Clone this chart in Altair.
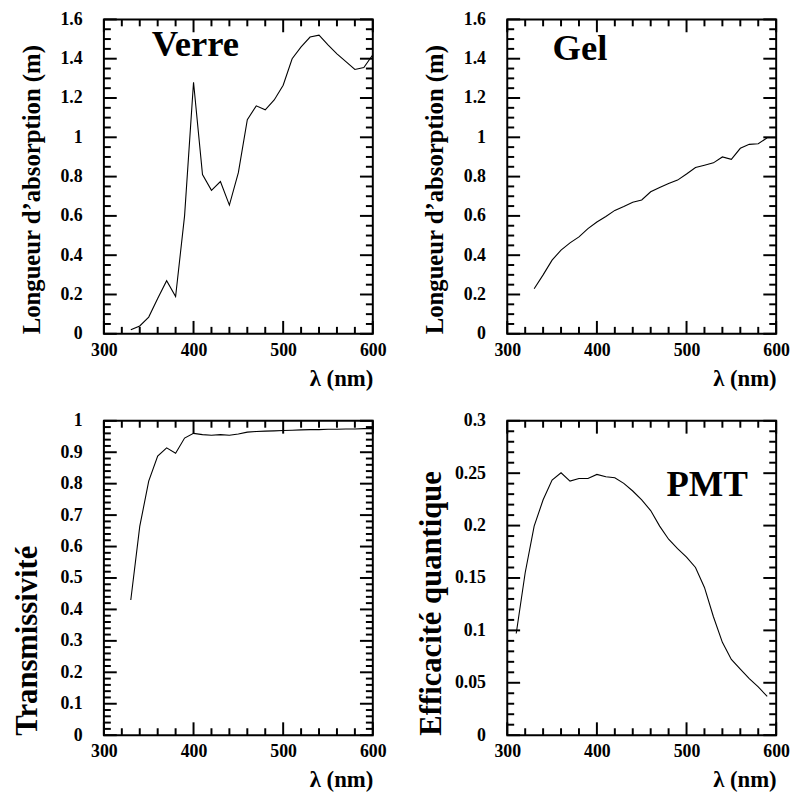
import altair as alt
import pandas as pd

FONT = "Liberation Serif"

# ---- data ----
verre_nm = [330, 340, 350, 360, 370, 380, 390, 400, 410, 420, 430, 440, 450, 460,
            470, 480, 490, 500, 510, 520, 530, 540, 550, 560, 570, 580, 590, 600]
verre_val = [0.02, 0.04, 0.085, 0.18, 0.27, 0.19, 0.60, 1.28, 0.81, 0.73, 0.775, 0.655,
             0.82, 1.09, 1.16, 1.14, 1.19, 1.265, 1.40, 1.46, 1.51, 1.52, 1.47, 1.425,
             1.385, 1.345, 1.355, 1.42]

gel_nm = [330, 340, 350, 360, 370, 380, 390, 400, 410, 420, 430, 440, 450, 460,
          470, 480, 490, 500, 510, 520, 530, 540, 550, 560, 570, 580, 590, 600]
gel_val = [0.229, 0.30, 0.375, 0.426, 0.463, 0.493, 0.535, 0.569, 0.597, 0.628, 0.648,
           0.670, 0.681, 0.723, 0.745, 0.765, 0.782, 0.813, 0.846, 0.858, 0.870, 0.900,
           0.888, 0.944, 0.964, 0.967, 0.998, 0.998]

trans_nm = [330, 340, 350, 360, 370, 380, 390, 400, 410, 420, 430, 440, 450, 460,
            470, 480, 490, 500, 510, 520, 530, 540, 550, 560, 570, 580, 590, 600]
trans_val = [0.430, 0.664, 0.808, 0.888, 0.914, 0.897, 0.945, 0.960, 0.956, 0.954, 0.956,
             0.954, 0.958, 0.964, 0.966, 0.967, 0.968, 0.969, 0.970, 0.971, 0.972, 0.972,
             0.973, 0.973, 0.974, 0.974, 0.975, 0.975]

pmt_nm = [310, 320, 330, 340, 350, 360, 370, 380, 390, 400, 410, 420, 430, 440, 450,
          460, 470, 480, 490, 500, 510, 520, 530, 540, 550, 560, 570, 580, 590]
pmt_val = [0.097, 0.155, 0.1995, 0.2246, 0.2435, 0.2504, 0.2425, 0.245, 0.245, 0.2488,
           0.2466, 0.2457, 0.2403, 0.233, 0.2246, 0.2143, 0.1995, 0.187, 0.178, 0.170,
           0.160, 0.141, 0.113, 0.0886, 0.0723, 0.063, 0.054, 0.046, 0.037]

# ---- tick values ----
x_major = [300, 400, 500, 600]
x_minor = [320, 340, 360, 380, 420, 440, 460, 480, 520, 540, 560, 580]

abs_major = [0, 0.2, 0.4, 0.6, 0.8, 1.0, 1.2, 1.4, 1.6]
abs_minor = [round(0.05 * i, 2) for i in range(33) if i % 4 != 0]

trans_major = [0, 0.1, 0.2, 0.3, 0.4, 0.5, 0.6, 0.7, 0.8, 0.9, 1.0]
trans_minor = [round(0.02 * i, 2) for i in range(51) if i % 5 != 0]

pmt_major = [0, 0.05, 0.1, 0.15, 0.2, 0.25, 0.3]
pmt_minor = [round(0.01 * i, 2) for i in range(31) if i % 5 != 0]

W, H = 272, 318
MAJ, MIN = 13, 7          # tick lengths in pixels
X0, X1 = 300, 600


def panel(nm, val, ymax, y_major, y_minor, y_title, tsize, tx,
          label=None, lx=None, ly=None):
    xaxis = alt.Axis(values=x_major, title="λ (nm)", titleX=W, titleY=34,
                     titleAlign="right", titleBaseline="top", labelPadding=8,
                     labelFlush=False, labelOverlap=False)
    yaxis = alt.Axis(values=y_major, format="~g", title=y_title, titleX=tx, titleY=H,
                     titleAngle=270, titleAlign="left", titleBaseline="bottom",
                     titleFontSize=tsize, labelPadding=22, labelFlush=False,
                     labelOverlap=False)
    xenc = alt.X("nm:Q", scale=alt.Scale(domain=[X0, X1], nice=False, zero=False), axis=xaxis)
    yenc = alt.Y("val:Q", scale=alt.Scale(domain=[0, ymax], nice=False, zero=False), axis=yaxis)

    df = pd.DataFrame({"nm": nm, "val": val})
    line = alt.Chart(df).mark_line(color="black", strokeWidth=1.1).encode(x=xenc, y=yenc)

    # mirrored inward ticks (bottom/top and left/right), lengths converted to data units
    vt = []
    for v in x_major:
        d = ymax * MAJ / H
        vt += [(v, 0, d), (v, ymax, ymax - d)]
    for v in x_minor:
        d = ymax * MIN / H
        vt += [(v, 0, d), (v, ymax, ymax - d)]
    dv = pd.DataFrame(vt, columns=["nm", "val", "val2"]).astype(float)

    ht = []
    for v in y_major:
        d = (X1 - X0) * MAJ / W
        ht += [(v, X0, X0 + d), (v, X1, X1 - d)]
    for v in y_minor:
        d = (X1 - X0) * MIN / W
        ht += [(v, X0, X0 + d), (v, X1, X1 - d)]
    dh = pd.DataFrame(ht, columns=["val", "nm", "nm2"]).astype(float)

    vrules = alt.Chart(dv).mark_rule(color="black", strokeWidth=2).encode(
        x=xenc, y=yenc, y2=alt.Y2("val2:Q"))
    hrules = alt.Chart(dh).mark_rule(color="black", strokeWidth=2).encode(
        y=yenc, x=xenc, x2=alt.X2("nm2:Q"))

    layers = [line, vrules, hrules]
    if label:
        dl = pd.DataFrame({"nm": [lx], "val": [ly], "t": [label]})
        layers.append(alt.Chart(dl).mark_text(font=FONT, fontWeight="bold", fontSize=37,
                                              color="black")
                      .encode(x=xenc, y=yenc, text="t:N"))
    return alt.layer(*layers).properties(width=W, height=H)


p1 = panel(verre_nm, verre_val, 1.6, abs_major, abs_minor, "Longueur d’absorption (m)",
           25, -60, "Verre", 402, 1.47)
p2 = panel(gel_nm, gel_val, 1.6, abs_major, abs_minor, "Longueur d’absorption (m)",
           25, -60, "Gel", 381, 1.45)
p3 = panel(trans_nm, trans_val, 1.0, trans_major, trans_minor, "Transmissivité",
           31, -61)
p4 = panel(pmt_nm, pmt_val, 0.3, pmt_major, pmt_minor, "Efficacité quantique",
           31, -61, "PMT", 523, 0.239)

chart = (
    alt.concat(p1, p2, p3, p4, columns=2, spacing={"row": 88, "column": 136}, bounds="flush")
    .properties(padding={"left": 3, "top": -3, "right": 0, "bottom": 0}, background="white")
    .configure_view(stroke="black", strokeWidth=2)
    .configure_axis(labelFont=FONT, labelFontWeight="bold", labelFontSize=18,
                    labelColor="black", titleFont=FONT, titleFontWeight="bold",
                    titleFontSize=23, titleColor="black", ticks=False, domain=False,
                    grid=False)
)

chart.save("out.html", embed_options={"renderer": "svg", "actions": False})
